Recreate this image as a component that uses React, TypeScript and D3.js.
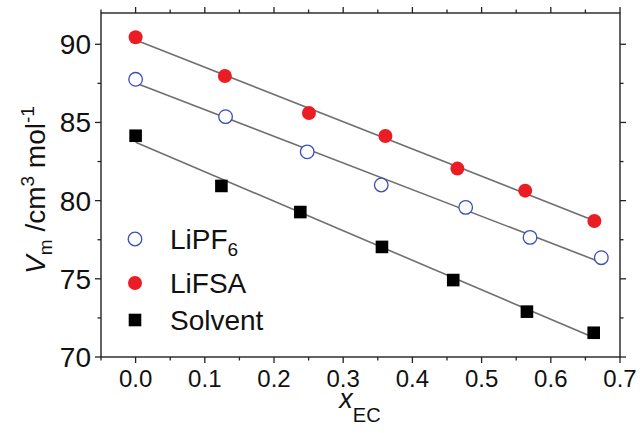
import React from "react";
import * as d3 from "d3";

// Molar volume vs. EC mole fraction
const xLiPF6 = [0, 0.13, 0.248, 0.355, 0.477, 0.57, 0.673];
const vLiPF6 = [87.76, 85.37, 83.12, 81.0, 79.57, 77.65, 76.35];

const xLiFSA = [0, 0.129, 0.2505, 0.361, 0.465, 0.563, 0.663];
const vLiFSA = [90.45, 87.97, 85.6, 84.13, 82.05, 80.64, 78.7];

const xSolvent = [0, 0.124, 0.238, 0.356, 0.459, 0.5655, 0.662];
const vSolvent = [84.15, 80.94, 79.27, 77.04, 74.92, 72.9, 71.55];

const xTicks = [0, 0.1, 0.2, 0.3, 0.4, 0.5, 0.6, 0.7];
const yTicks = [70, 75, 80, 85, 90];

const W = 640;
const H = 433;
const FONT = "'Liberation Sans', Arial, sans-serif";

const x = d3.scaleLinear().domain([-0.05, 0.7]).range([101, 620]);
const y = d3.scaleLinear().domain([70, 92]).range([357, 13]);

function fit(xs: number[], ys: number[]) {
  const mx = d3.mean(xs)!;
  const my = d3.mean(ys)!;
  let num = 0;
  let den = 0;
  xs.forEach((xi, i) => {
    num += (xi - mx) * (ys[i] - my);
    den += (xi - mx) * (xi - mx);
  });
  const slope = num / den;
  const icpt = my - slope * mx;
  const x0 = d3.min(xs)!;
  const x1 = d3.max(xs)!;
  return [
    [x0, icpt + slope * x0],
    [x1, icpt + slope * x1],
  ] as [number, number][];
}

const line = d3
  .line<[number, number]>()
  .x((d) => x(d[0]))
  .y((d) => y(d[1]));

const xMinor = d3.range(-0.05, 0.7001, 0.1);
const yMinor = d3.range(72.5, 92.001, 5);

export default function App() {
  const [xl, xr] = x.range();
  const [yb, yt] = y.range();
  const axisColor = "#222";
  const major = 6;
  const minor = 3.5;
  const series = [
    { xs: xLiPF6, ys: vLiPF6 },
    { xs: xLiFSA, ys: vLiFSA },
    { xs: xSolvent, ys: vSolvent },
  ];
  return (
    <svg
      width={W}
      height={H}
      style={{ position: "fixed", left: 0, top: 0, background: "#fff" }}
      fontFamily={FONT}
    >
      {/* fit lines */}
      {series.map((s, i) => (
        <path
          key={i}
          d={line(fit(s.xs, s.ys))!}
          stroke="#6f6f6f"
          strokeWidth={1.6}
          fill="none"
        />
      ))}

      {/* frame */}
      <rect
        x={xl}
        y={yt}
        width={xr - xl}
        height={yb - yt}
        fill="none"
        stroke={axisColor}
        strokeWidth={1.4}
      />

      {/* x ticks, bottom and top */}
      {xTicks.map((t) => (
        <g key={"xt" + t}>
          <line x1={x(t)} x2={x(t)} y1={yb} y2={yb + major} stroke={axisColor} strokeWidth={1.3} />
          <line x1={x(t)} x2={x(t)} y1={yt} y2={yt - major} stroke={axisColor} strokeWidth={1.3} />
          <text x={x(t)} y={387} fontSize={24} textAnchor="middle" fill="#111">
            {d3.format(".1f")(t)}
          </text>
        </g>
      ))}
      {xMinor.map((t) => (
        <g key={"xm" + t}>
          <line x1={x(t)} x2={x(t)} y1={yb} y2={yb + minor} stroke={axisColor} strokeWidth={1.3} />
          <line x1={x(t)} x2={x(t)} y1={yt} y2={yt - minor} stroke={axisColor} strokeWidth={1.3} />
        </g>
      ))}

      {/* y ticks, left and right */}
      {yTicks.map((t) => (
        <g key={"yt" + t}>
          <line x1={xl} x2={xl - major} y1={y(t)} y2={y(t)} stroke={axisColor} strokeWidth={1.3} />
          <line x1={xr} x2={xr + major} y1={y(t)} y2={y(t)} stroke={axisColor} strokeWidth={1.3} />
          <text x={91} y={y(t) + 10} fontSize={28} textAnchor="end" fill="#111">
            {t}
          </text>
        </g>
      ))}
      {yMinor.map((t) => (
        <g key={"ym" + t}>
          <line x1={xl} x2={xl - minor} y1={y(t)} y2={y(t)} stroke={axisColor} strokeWidth={1.3} />
          <line x1={xr} x2={xr + minor} y1={y(t)} y2={y(t)} stroke={axisColor} strokeWidth={1.3} />
        </g>
      ))}

      {/* axis titles */}
      <text x={360} y={408} fontSize={27} textAnchor="middle" fill="#111">
        <tspan fontStyle="italic">x</tspan>
        <tspan fontSize={20} dy={14}>EC</tspan>
      </text>
      <text
        transform="translate(45,190) rotate(-90)"
        fontSize={28}
        textAnchor="middle"
        fill="#111"
      >
        <tspan fontStyle="italic">V</tspan>
        <tspan fontSize={19} dy={7}>m</tspan>
        <tspan dy={-7}> /cm</tspan>
        <tspan fontSize={19} dy={-11}>3</tspan>
        <tspan dy={11}> mol</tspan>
        <tspan fontSize={19} dy={-11}>-1</tspan>
      </text>

      {/* markers */}
      {xLiPF6.map((xv, i) => (
        <circle
          key={"p" + i}
          cx={x(xv)}
          cy={y(vLiPF6[i])}
          r={6.8}
          fill="#fff"
          stroke="#3b4fb8"
          strokeWidth={1.3}
        />
      ))}
      {xLiFSA.map((xv, i) => (
        <circle key={"f" + i} cx={x(xv)} cy={y(vLiFSA[i])} r={7} fill="#ec1c24" />
      ))}
      {xSolvent.map((xv, i) => (
        <rect
          key={"s" + i}
          x={x(xv) - 6.3}
          y={y(vSolvent[i]) - 6.3}
          width={12.6}
          height={12.6}
          fill="#000"
        />
      ))}

      {/* legend */}
      <g fill="#111">
        <circle cx={135} cy={239} r={6.8} fill="#fff" stroke="#3b4fb8" strokeWidth={1.3} />
        <text x={170} y={249} fontSize={28}>
          LiPF<tspan fontSize={19} dy={7}>6</tspan>
        </text>
        <circle cx={135} cy={283} r={7} fill="#ec1c24" />
        <text x={170} y={293} fontSize={28}>LiFSA</text>
        <rect x={135 - 6.3} y={320 - 6.3} width={12.6} height={12.6} fill="#000" />
        <text x={170} y={330} fontSize={28}>Solvent</text>
      </g>
    </svg>
  );
}
